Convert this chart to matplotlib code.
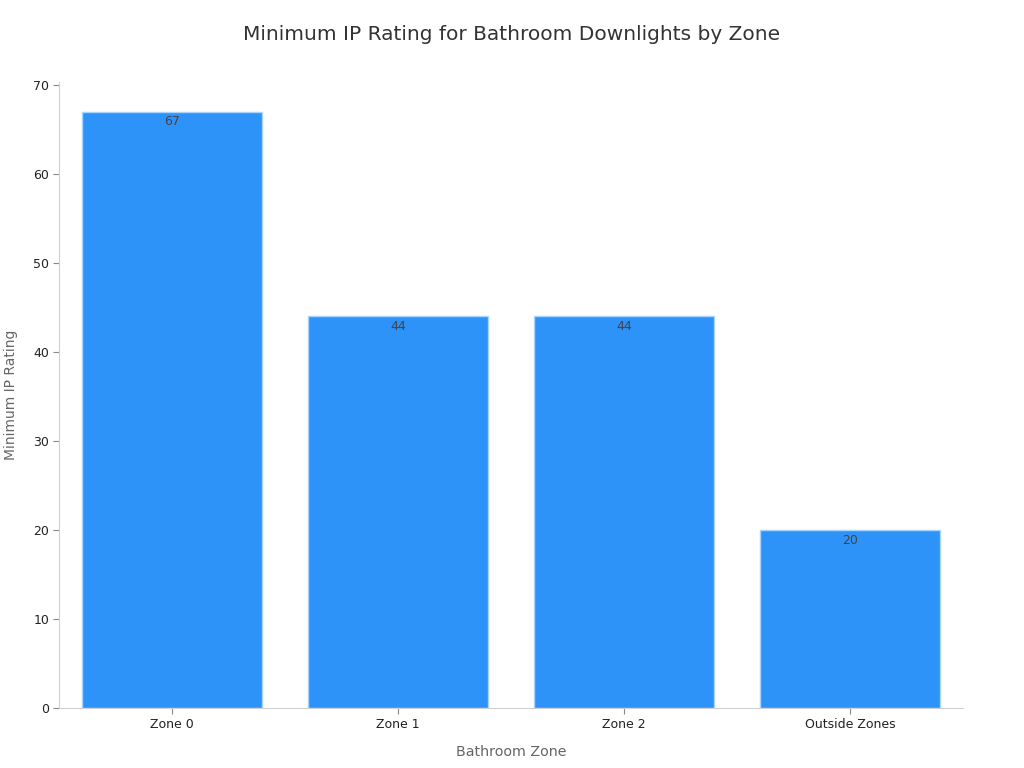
import matplotlib
matplotlib.use("Agg")
import matplotlib.pyplot as plt

zones = ["Zone 0", "Zone 1", "Zone 2", "Outside Zones"]
ip_ratings = [67, 44, 44, 20]

plt.rcParams['font.family'] = ['DejaVu Sans']

fig = plt.figure(figsize=(10.24, 7.68), dpi=100)
ax = fig.add_axes([0.0576, 0.078, 0.8828, 0.815])

x = list(range(len(zones)))
bars = ax.bar(x, ip_ratings, width=0.8, color='#2E93F9', edgecolor='#A8D4FF', linewidth=1)

for xi, v in zip(x, ip_ratings):
    ax.text(xi, v - 0.4, str(v), ha='center', va='top', fontsize=9, color='#444444')

ax.set_xlim(-0.5, 3.5)
ax.set_ylim(0, 70.3)
ax.set_yticks(range(0, 71, 10))
ax.set_xticks(x)
ax.set_xticklabels(zones)
ax.tick_params(axis='both', labelsize=9, colors='#222222', length=4, width=0.8, pad=3)
ax.tick_params(axis='both', color='#888888')

for s in ['top', 'right']:
    ax.spines[s].set_visible(False)
for s in ['left', 'bottom']:
    ax.spines[s].set_color('#D0D0D0')

ax.set_xlabel('Bathroom Zone', fontsize=10.3, color='#666666', labelpad=10)
ax.set_ylabel('Minimum IP Rating', fontsize=10, color='#666666', labelpad=11)
fig.suptitle('Minimum IP Rating for Bathroom Downlights by Zone', fontsize=14.5, color='#333333', y=0.968)

fig.savefig('out.png', dpi=100)
